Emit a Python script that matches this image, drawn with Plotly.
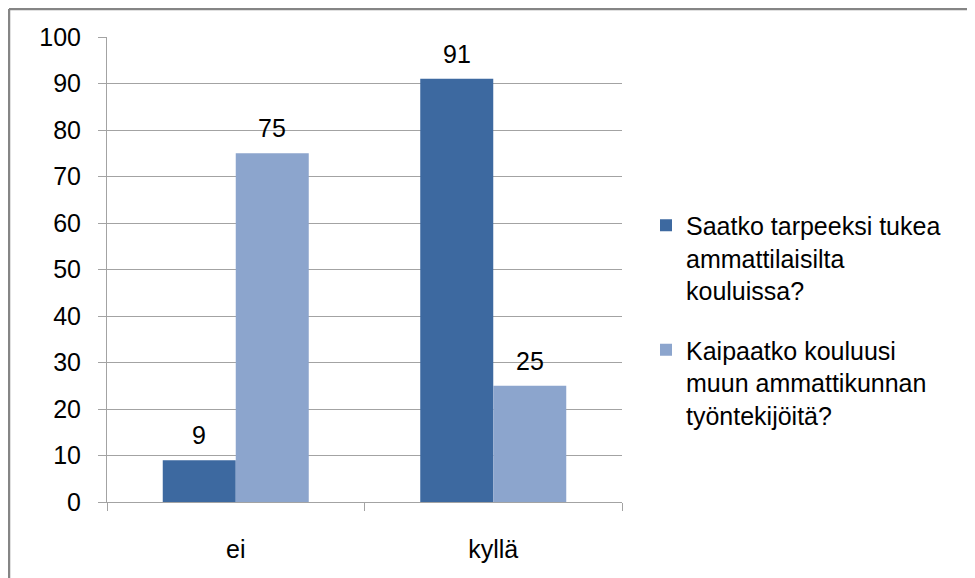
import plotly.graph_objects as go

categories = ["ei", "kyllä"]
series_names = [
    "Saatko tarpeeksi tukea<br>ammattilaisilta<br>kouluissa?",
    "Kaipaatko kouluusi<br>muun ammattikunnan<br>työntekijöitä?",
]
support_values = [9, 91]
missing_values = [75, 25]
y_ticks = list(range(0, 101, 10))

COLORS = ["#3D69A0", "#8CA5CD"]
FONT = "Liberation Sans, Arial, sans-serif"
GRID = "#A3A3A3"

# the page body adds an 8px margin; figure coords below are page coords minus 8
FW, FH = 967, 570
L, T, W, H = 99, 29, 515, 465

fig = go.Figure()
for i, (name, values) in enumerate(zip(series_names, [support_values, missing_values])):
    fig.add_trace(
        go.Bar(
            x=categories,
            y=values,
            name=name,
            legendgroup=f"g{i}",
            marker={"color": COLORS[i], "line": {"width": 0}},
            hoverinfo="x+y",
        )
    )
    for cat, val in zip(categories, values):
        fig.add_annotation(
            x=cat, y=val, xref="x", yref="y",
            text=str(val), showarrow=False,
            xshift=(i - 0.5) * 73, yshift=25, yanchor="middle",
            font={"size": 25, "color": "#000000", "family": FONT},
        )

def px_x(p):
    return (p - L) / W

def px_y(p):
    return (T + H - p) / H

# outer frame (top and left edges visible)
fig.add_shape(type="line", xref="paper", yref="paper", x0=px_x(1), x1=px_x(FW), y0=px_y(1), y1=px_y(1),
              line={"color": "#858585", "width": 2.5})
fig.add_shape(type="line", xref="paper", yref="paper", x0=px_x(1), x1=px_x(1), y0=px_y(1), y1=px_y(FH),
              line={"color": "#858585", "width": 2.5})

fig.update_layout(
    width=FW,
    height=FH,
    margin={"l": L, "r": FW - L - W, "t": T, "b": FH - T - H, "pad": 0},
    paper_bgcolor="white",
    plot_bgcolor="white",
    barmode="group",
    bargap=0.433,
    bargroupgap=0,
    font={"family": FONT, "size": 25, "color": "#000000"},
    showlegend=True,
    legend={
        "x": px_x(638), "y": px_y(312), "xanchor": "left", "yanchor": "middle",
        "font": {"size": 25, "family": FONT, "color": "#000000"},
        "valign": "top", "tracegroupgap": 24, "itemwidth": 30,
        "bgcolor": "rgba(0,0,0,0)",
    },
)
fig.update_xaxes(
    showline=True, linecolor=GRID, linewidth=1,
    ticks="outside", tickson="boundaries", ticklen=8, tickcolor=GRID,
    ticklabelstandoff=25, showgrid=False,
)
fig.update_yaxes(
    range=[0, 100], tickvals=y_ticks, showline=True, linecolor=GRID, linewidth=1,
    ticks="outside", ticklen=8, tickcolor=GRID, showgrid=True, gridcolor=GRID, gridwidth=1,
    zeroline=False, ticklabelstandoff=12,
)

fig.write_html("out.html")
